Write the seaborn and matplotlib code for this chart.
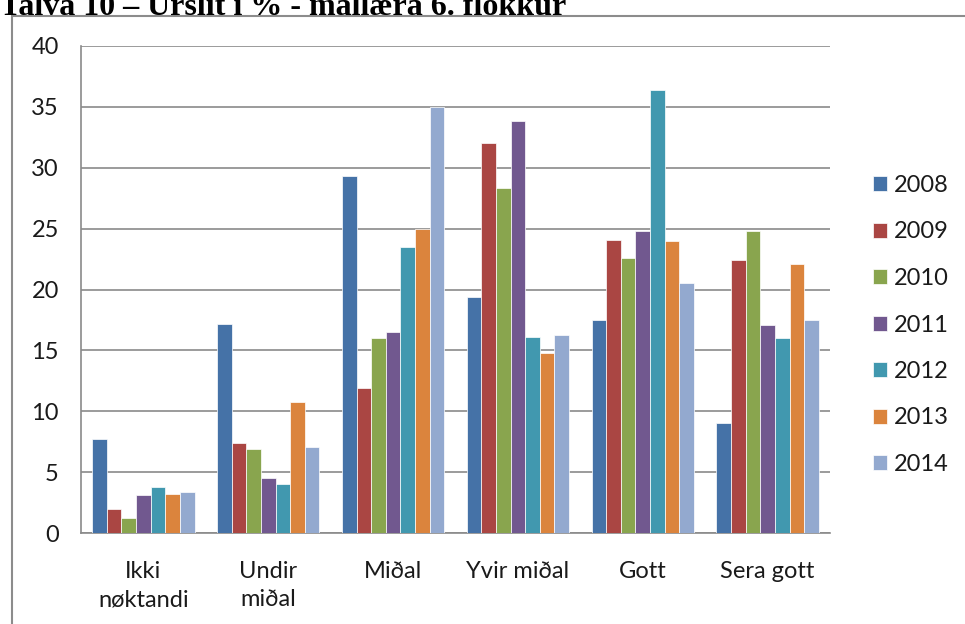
import pandas as pd
import matplotlib
matplotlib.use("Agg")
import matplotlib.pyplot as plt
import seaborn as sns
from matplotlib.patches import Rectangle, Patch

# Data (percent per grade, per year)
categories = ["Ikki\nnøktandi", "Undir\nmiðal", "Miðal", "Yvir miðal", "Gott", "Sera gott"]
years = ["2008", "2009", "2010", "2011", "2012", "2013", "2014"]

v2008 = [7.7, 17.2, 29.3, 19.4, 17.5, 9.0]
v2009 = [2.0, 7.4, 11.9, 32.0, 24.1, 22.4]
v2010 = [1.2, 6.9, 16.0, 28.3, 22.6, 24.8]
v2011 = [3.1, 4.5, 16.5, 33.8, 24.8, 17.1]
v2012 = [3.8, 4.0, 23.5, 16.1, 36.4, 16.0]
v2013 = [3.2, 10.8, 25.0, 14.8, 24.0, 22.1]
v2014 = [3.4, 7.1, 35.0, 16.3, 20.5, 17.5]

colors = ["#4572A7", "#AA4643", "#89A54E", "#71588F", "#4198AF", "#DB843D", "#93A9CF"]

series = [v2008, v2009, v2010, v2011, v2012, v2013, v2014]
rows = []
for year, vals in zip(years, series):
    for cat, v in zip(categories, vals):
        rows.append({"category": cat, "year": year, "value": v})
df = pd.DataFrame(rows)

sns.set_style("white")
plt.rcParams["font.family"] = ["Lato", "DejaVu Sans"]

fig = plt.figure(figsize=(9.65, 6.24), dpi=100)
ax = fig.add_axes([81 / 965, 1 - 533 / 624, (830 - 81) / 965, (533 - 46) / 624])

grid_col = "#8a8a8a"
txt_col = "#1a1a1a"
sns.barplot(data=df, x="category", y="value", hue="year", order=categories,
            hue_order=years, palette=colors, width=0.82, saturation=1,
            edgecolor="white", linewidth=0.5, legend=False, ax=ax, zorder=3)

ax.set_ylim(0, 40)
ax.set_xlim(-0.5, len(categories) - 0.5)
ax.set_yticks(range(0, 41, 5))
ax.yaxis.grid(True, color=grid_col, linewidth=1.2, zorder=0)
ax.set_axisbelow(True)
ax.set_xlabel("")
ax.set_ylabel("")

for side in ["top", "right"]:
    ax.spines[side].set_visible(False)
for side in ["left", "bottom"]:
    ax.spines[side].set_color(grid_col)
    ax.spines[side].set_linewidth(1.2)

ax.tick_params(axis="y", length=6, width=1.2, color=grid_col, pad=10,
               labelsize=17, labelcolor=txt_col)
ax.tick_params(axis="x", which="major", length=0, pad=20,
               labelsize=17, labelcolor=txt_col)
ax.set_xticks([i - 0.5 for i in range(len(categories) + 1)], minor=True)
ax.tick_params(axis="x", which="minor", length=7, width=1.2, color=grid_col)
for lbl in ax.get_xticklabels():
    lbl.set_linespacing(1.45)

handles = [Patch(facecolor=c, edgecolor="white", linewidth=0.5) for c in colors]
fig.legend(handles, years, loc="center left", bbox_to_anchor=(873 / 965, 1 - 325 / 624),
           frameon=False, fontsize=17, handlelength=0.6, handleheight=0.6,
           handletextpad=0.3, labelspacing=1.08, borderpad=0, borderaxespad=0,
           labelcolor=txt_col)

# outer frame of the embedded chart
fig.patches.append(Rectangle((12 / 965, -0.1), 1.2, 1 - 16 / 624 + 0.1,
                             transform=fig.transFigure, fill=False,
                             edgecolor="#8c8c8c", linewidth=1.5))

# title, cut at the top like the scan
fig.text(0.0, 1 - 15 / 624, "Talva 10 – Úrslit í % - mállæra 6. flokkur",
         family="Liberation Serif", fontweight="bold", fontsize=23,
         ha="left", va="baseline", color="black")

fig.savefig("out.png", dpi=100)
